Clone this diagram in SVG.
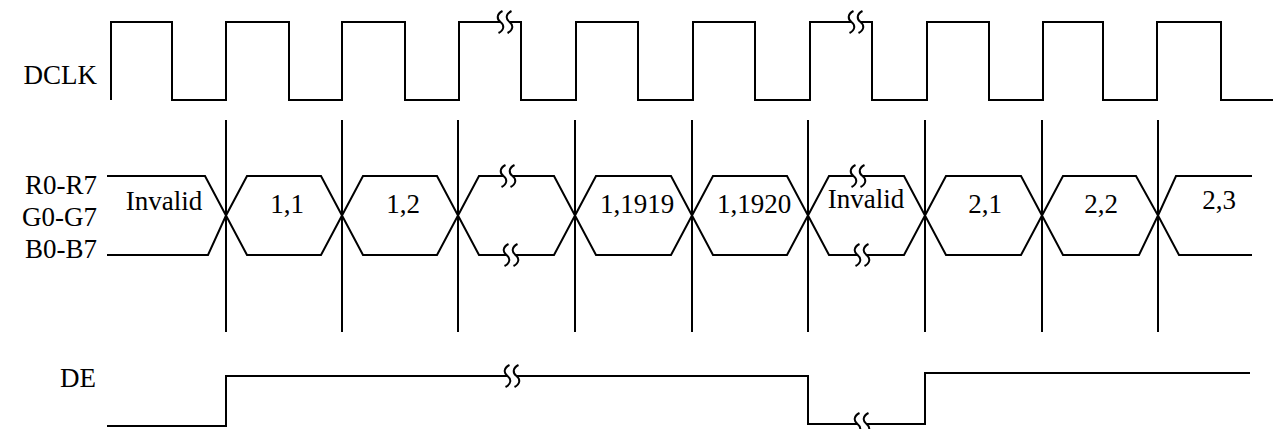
<svg xmlns="http://www.w3.org/2000/svg" width="1278" height="429" viewBox="0 0 1278 429">
<style>
.w{fill:none;stroke:#000;stroke-width:2;stroke-linejoin:miter}
.v{fill:none;stroke:#000;stroke-width:2}
text{font-family:"Liberation Serif","Times New Roman",serif;font-size:27px;fill:#000}
.l{text-anchor:end}
.c{text-anchor:middle}
</style>
<defs>
<g id="brk" class="w">
<path d="M -2.5,-11 C -8.5,-8 -8.5,-3 -4.5,0 C -0.5,3 -0.5,8 -6.5,11"/>
<path d="M 6.5,-11 C 0.5,-8 0.5,-3 4.5,0 C 8.5,3 8.5,8 2.5,11"/>
</g>
</defs>
<rect width="1278" height="429" fill="#fff"/>
<g id="labels">
<text class="l" x="97" y="84">DCLK</text>
<text class="l" x="97" y="194">R0-R7</text>
<text class="l" x="97" y="226">G0-G7</text>
<text class="l" x="97" y="258">B0-B7</text>
<text class="l" x="96" y="387">DE</text>
</g>
<g id="dclk">
<path class="w" d="M111,100 V22 H172 V100 H226 V22 H289 V100 H342 V22 H405 V100 H459 V22 H500.5 M509.5,22 H521 V100 H576 V22 H638 V100 H693 V22 H755 V100 H810 V22 H851.5 M860.5,22 H872 V100 H927 V22 H989 V100 H1043 V22 H1103 V100 H1157 V22 H1221 V100 H1273"/>
<use href="#brk" x="505" y="22"/>
<use href="#brk" x="856" y="22"/>
</g>
<g id="markers">
<path class="v" d="M226,120 V332 M342,120 V332 M458,120 V332 M575,120 V332 M692,120 V332 M808,120 V332 M925,120 V332 M1042,120 V332 M1158,120 V332"/>
</g>
<g id="data">
<path class="w" d="M107,176 H205 L226,215.5 L208,255 H107"/>
<path class="w" d="M226,215.5 L247,176 H321 L342,215.5 L321,255 H247 Z"/>
<path class="w" d="M342,215.5 L363,176 H437 L458,215.5 L437,255 H363 Z"/>
<path class="w" d="M458,215.5 L479,176 H503.5 M512.5,176 H554 L575,215.5 L554,255 H515.5 M506.5,255 H479 L458,215.5"/>
<path class="w" d="M575,215.5 L596,176 H671 L692,215.5 L671,255 H596 Z"/>
<path class="w" d="M692,215.5 L713,176 H787 L808,215.5 L787,255 H713 Z"/>
<path class="w" d="M808,215.5 L829,176 H853.5 M862.5,176 H904 L925,215.5 L904,255 H866.5 M857.5,255 H829 L808,215.5"/>
<path class="w" d="M925,215.5 L946,176 H1021 L1042,215.5 L1021,255 H946 Z"/>
<path class="w" d="M1042,215.5 L1063,176 H1136 L1158,215.5 L1139,255 H1063 Z"/>
<path class="w" d="M1252,176 H1176 L1158,215.5 L1179,255 H1252"/>
<use href="#brk" x="508" y="176"/>
<use href="#brk" x="511" y="255"/>
<use href="#brk" x="858" y="176"/>
<use href="#brk" x="862" y="255"/>
<text class="c" x="164" y="210">Invalid</text>
<text class="c" x="287" y="213">1,1</text>
<text class="c" x="403" y="213">1,2</text>
<text class="c" x="637" y="213">1,1919</text>
<text class="c" x="754" y="213">1,1920</text>
<text class="c" x="866" y="208">Invalid</text>
<text class="c" x="985" y="213">2,1</text>
<text class="c" x="1101" y="213">2,2</text>
<text class="c" x="1219" y="209">2,3</text>
</g>
<g id="de">
<path class="w" d="M107,426 H226 V376 H507.5 M516.5,376 H808 V424 H857.5 M866.5,424 H925 V373 H1250"/>
<use href="#brk" x="512" y="376"/>
<use href="#brk" x="862" y="424"/>
</g>
</svg>
